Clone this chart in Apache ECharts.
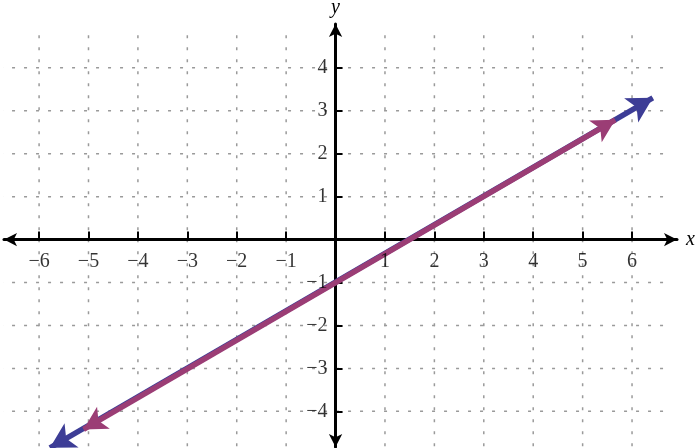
<!DOCTYPE html>
<html><head><meta charset="utf-8">
<script src="https://cdn.jsdelivr.net/npm/echarts@6/dist/echarts.min.js"></script>
<style>html,body{margin:0;padding:0;background:#fff}#c{width:698px;height:448px}</style>
</head><body><div id="c"></div>
<script>
// Tick labels / ticks
const xTicks = [-6, -5, -4, -3, -2, -1, 1, 2, 3, 4, 5, 6];
const yTicks = [-4, -3, -2, -1, 1, 2, 3, 4];
// Dotted grid lines
const xGridValues = [-6, -5, -4, -3, -2, -1, 1, 2, 3, 4, 5, 6];
const yGridValues = [-4, -3, -2, -1, 1, 2, 3, 4];
const vGridSpan = [-4.95, 4.76];
const hGridSpan = [-6.79, 6.73];
// Axis extents (arrow tips)
const xRange = [-6.71, 6.91];
const yRange = [-4.83, 5.02];
// The graphed line (blue underneath, magenta on top); endpoints = arrow tips
const blueLine = [[-5.78, -4.85], [6.42, 3.30]];
const magentaLine = [[-5.10, -4.42], [5.66, 2.79]];

const fmt = v => v < 0 ? '\u2212' + (-v) : '' + v;
const serif = 'Liberation Serif';

const gridStyle = { color: '#9a9a9a', width: 1.5, type: [3, 9] };
const series = [];
xGridValues.forEach(v => series.push({
  type: 'line', data: [[v, vGridSpan[1]], [v, vGridSpan[0]]], symbol: 'none', clip: false,
  silent: true, animation: false, z: 1, lineStyle: gridStyle
}));
yGridValues.forEach(v => series.push({
  type: 'line', data: [[hGridSpan[0], v], [hGridSpan[1], v]], symbol: 'none', clip: false,
  silent: true, animation: false, z: 1, lineStyle: gridStyle
}));
function arrowLine(id, pts, color, w, h) {
  return {
    id: id, name: id, type: 'lines', coordinateSystem: 'cartesian2d', polyline: false,
    clip: false, silent: true, animation: false, z: 6,
    symbol: ['arrow', 'arrow'], symbolSize: [[w, h], [w, h]],
    lineStyle: { color: color, width: 5.5, opacity: 1, type: 'solid' },
    itemStyle: { color: color },
    data: [{ coords: pts }]
  };
}
series.push(arrowLine('blue', blueLine, '#3D3D96', 21, 25));
series.push(arrowLine('magenta', magentaLine, '#9B3D75', 19, 23));

const labelText = { fontFamily: serif, fontSize: 20, color: '#000' };
series.push({
  id: 'xlabels', type: 'scatter', symbolSize: 0, silent: true, animation: false, clip: false, z: 7,
  data: xTicks.map(v => [v, 0]),
  label: Object.assign({ show: true, position: 'bottom', distance: 12, formatter: p => fmt(p.value[0]) }, labelText)
});
series.push({
  id: 'ylabels', type: 'scatter', symbolSize: 0, silent: true, animation: false, clip: false, z: 7,
  data: yTicks.map(v => [0, v]),
  label: Object.assign({ show: true, position: 'left', distance: 8, formatter: p => fmt(p.value[1]) }, labelText)
});

const chart = echarts.init(document.getElementById('c'), null, { renderer: 'canvas' });
chart.setOption({
  animation: false,
  backgroundColor: '#fff',
  grid: { left: 4, right: 21, top: 24, bottom: 1, containLabel: false, outerBoundsMode: 'none' },
  xAxis: {
    type: 'value', min: xRange[0], max: xRange[1], z: 3,
    name: 'x', nameLocation: 'end', nameGap: 9,
    nameTextStyle: { fontFamily: serif, fontStyle: 'italic', fontSize: 20, color: '#000', verticalAlign: 'middle' },
    axisLine: { onZero: true, symbol: ['arrow', 'arrow'], symbolSize: [10, 13], lineStyle: { color: '#000', width: 3 } },
    axisTick: { show: true, customValues: xTicks, inside: true, length: 8, lineStyle: { color: '#000', width: 2 } },
    axisLabel: { show: false },
    splitLine: { show: false }
  },
  yAxis: {
    type: 'value', min: yRange[0], max: yRange[1], z: 3,
    name: 'y', nameLocation: 'end', nameGap: 6,
    nameTextStyle: { fontFamily: serif, fontStyle: 'italic', fontSize: 20, color: '#000' },
    axisLine: { onZero: true, symbol: ['arrow', 'arrow'], symbolSize: [10, 13], lineStyle: { color: '#000', width: 3 } },
    axisTick: { show: true, customValues: yTicks, inside: true, length: 7, lineStyle: { color: '#000', width: 2 } },
    axisLabel: { show: false },
    splitLine: { show: false }
  },
  series: series
});
</script></body></html>
